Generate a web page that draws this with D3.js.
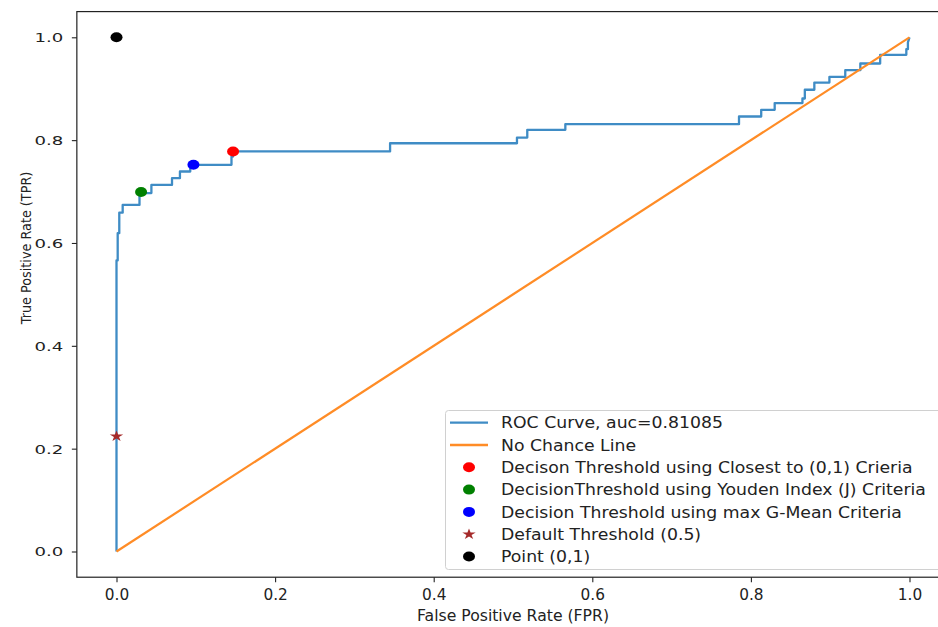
<!DOCTYPE html>
<html><head><meta charset="utf-8">
<script src="https://cdn.jsdelivr.net/npm/d3@7"></script>
<style>body{margin:0;background:#fff}svg{display:block}text{font-family:"DejaVu Sans",sans-serif;fill:#222}</style>
</head><body><svg id="c" width="938" height="627"></svg>
<script>
// ROC curve corner points
const rocFpr = [0,0,0.0015,0.0015,0.0035,0.0035,0.0078,0.0078,0.029,0.029,0.044,0.044,0.070,0.070,0.080,0.080,0.093,0.093,0.145,0.145,0.147,0.147,0.345,0.345,0.505,0.505,0.518,0.518,0.566,0.566,0.785,0.785,0.813,0.813,0.830,0.830,0.865,0.865,0.868,0.868,0.880,0.880,0.899,0.899,0.919,0.919,0.938,0.938,0.963,0.963,0.996,0.996,0.998,0.998,1];
const rocTpr = [0,0.566,0.566,0.619,0.619,0.659,0.659,0.674,0.674,0.697,0.697,0.713,0.713,0.726,0.726,0.739,0.739,0.752,0.752,0.768,0.768,0.778,0.778,0.794,0.794,0.805,0.805,0.820,0.820,0.831,0.831,0.846,0.846,0.859,0.859,0.872,0.872,0.881,0.881,0.898,0.898,0.912,0.912,0.923,0.923,0.936,0.936,0.949,0.949,0.966,0.966,0.977,0.977,0.99,1];
const chanceX = [0,1];
const chanceY = [0,1];
const markerNames = ["Decison Threshold using Closest to (0,1) Crieria","DecisionThreshold using Youden Index (J) Criteria","Decision Threshold using max G-Mean Criteria","Default Threshold (0.5)","Point (0,1)"];
const markerX = [0.147,0.031,0.097,0,0];
const markerY = [0.778,0.699,0.752,0.224,1];
const markerColors = ["#ff0000","#008000","#0000ff","#a52a2a","#000000"];
const markerShapes = ["dot","dot","dot","star","dot"];
const lineNames = ["ROC Curve, auc=0.81085","No Chance Line"];
const lineColors = ["#3f8cc5","#ff8c26"];
const tickVals = [0,0.2,0.4,0.6,0.8,1.0];

const svg = d3.select("#c");
const x = d3.scaleLinear().domain([0,1]).range([116.5,909.5]);
const y = d3.scaleLinear().domain([0,1]).range([551.5,37.3]);
const x0 = x(-0.05), x1 = x(1.05), y0 = y(-0.05), y1 = y(1.05);

// axes
const xAxis = svg.append("g").attr("transform",`translate(0,${y0})`)
  .call(d3.axisBottom(x).tickValues(tickVals).tickFormat(d3.format(".1f")).tickSize(5).tickPadding(6));
xAxis.select(".domain").remove();
xAxis.selectAll("line").attr("stroke","#222").attr("stroke-width",1.1);
xAxis.selectAll("text").remove();
xAxis.selectAll(".tick").append("text")
  .attr("transform","translate(0,11) scale(0.93,1)")
  .attr("text-anchor","middle").attr("dy","0.71em").attr("font-size",16.5).attr("fill","#222")
  .style("font-family","DejaVu Sans")
  .text(d=>d3.format(".1f")(d));

const yAxis = svg.append("g").attr("transform",`translate(${x0},0)`)
  .call(d3.axisLeft(y).tickValues(tickVals).tickFormat(d3.format(".1f")).tickSize(5));
yAxis.select(".domain").remove();
yAxis.selectAll("line").attr("stroke","#222").attr("stroke-width",1.1);
yAxis.selectAll("text").remove();
yAxis.selectAll(".tick").append("text")
  .attr("transform","translate(-13.5,0) scale(1.45,1)")
  .attr("text-anchor","end").attr("dy","0.35em").attr("font-size",12.5).attr("fill","#222")
  .style("font-family","DejaVu Sans")
  .text(d=>d3.format(".1f")(d));

// lines
const line = d3.line().x(d=>x(d[0])).y(d=>y(d[1]));
svg.append("path").datum(rocFpr.map((f,i)=>[f,rocTpr[i]])).attr("d",line)
  .attr("fill","none").attr("stroke",lineColors[0]).attr("stroke-width",2.3).attr("stroke-linejoin","round");
svg.append("path").datum(chanceX.map((f,i)=>[f,chanceY[i]])).attr("d",line)
  .attr("fill","none").attr("stroke",lineColors[1]).attr("stroke-width",2.2);

// markers
const star = d3.symbol().type(d3.symbolStar).size(42);
function drawMarker(g, shape, color, cx, cy){
  if(shape==="dot") g.append("ellipse").attr("cx",cx).attr("cy",cy).attr("rx",6).attr("ry",5).attr("fill",color);
  else g.append("path").attr("d",star()).attr("transform",`translate(${cx},${cy}) scale(1.15,0.95)`).attr("fill",color);
}
markerX.forEach((mx,i)=>drawMarker(svg, markerShapes[i], markerColors[i], x(mx), y(markerY[i])));

// frame
svg.append("rect").attr("x",x0).attr("y",y1).attr("width",x1-x0).attr("height",y0-y1)
  .attr("fill","none").attr("stroke","#222").attr("stroke-width",1.2);

// legend
const leg = svg.append("g");
leg.append("rect").attr("x",445.5).attr("y",410.5).attr("width",497).attr("height",159).attr("rx",3)
  .attr("fill","rgba(255,255,255,0.85)").attr("stroke","#d0d0d0").attr("stroke-width",1);
const rowY = i => 422.7 + i*22.3;
lineNames.forEach((n,i)=>{
  leg.append("line").attr("x1",450).attr("x2",488).attr("y1",rowY(i)).attr("y2",rowY(i))
    .attr("stroke",lineColors[i]).attr("stroke-width",2.3);
});
markerNames.forEach((n,i)=>drawMarker(leg, markerShapes[i], markerColors[i], 469, rowY(i+2)));
lineNames.concat(markerNames).forEach((n,i)=>{
  leg.append("text").attr("transform",`translate(501,${rowY(i)}) scale(1.08,1)`)
    .attr("dy","0.36em").attr("font-size",16).attr("fill","#222").text(n);
});

// axis labels
svg.append("text").attr("transform",`translate(${(x0+x1)/2},621) scale(0.95,1)`).attr("text-anchor","middle")
  .attr("font-size",16.5).text("False Positive Rate (FPR)");
svg.append("text").attr("transform","translate(26,248) rotate(-90) scale(0.97,1)").attr("text-anchor","middle")
  .attr("dy","0.35em").attr("font-size",13.2).text("True Positive Rate (TPR)");
</script></body></html>
